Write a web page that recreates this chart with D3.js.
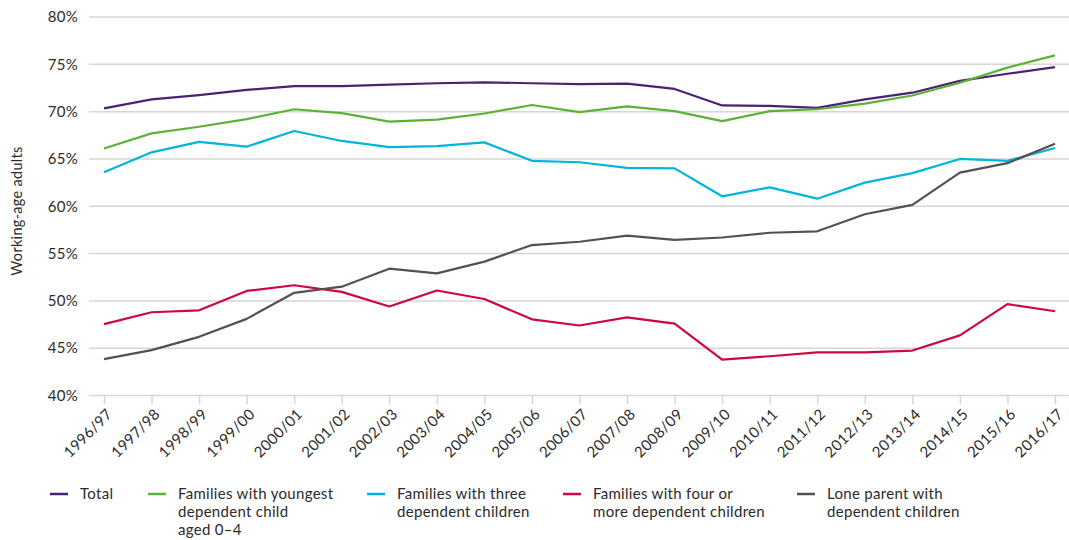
<!DOCTYPE html>
<html>
<head>
<meta charset="utf-8">
<script src="https://cdn.jsdelivr.net/npm/d3@7"></script>
<style>
  html, body { margin: 0; padding: 0; background: #fff; }
  svg { display: block; font-family: Lato, "Noto Sans", sans-serif; }
</style>
</head>
<body>
<svg id="chart" width="1069" height="540"></svg>
<script>
const years = ["1996/97","1997/98","1998/99","1999/00","2000/01","2001/02","2002/03","2003/04","2004/05","2005/06","2006/07","2007/08","2008/09","2009/10","2010/11","2011/12","2012/13","2013/14","2014/15","2015/16","2016/17"];
const total      = [70.35,71.3,71.75,72.3,72.7,72.7,72.85,73.0,73.1,73.0,72.9,72.95,72.4,70.65,70.6,70.4,71.3,72.0,73.25,74.0,74.7];
const youngest04 = [66.1,67.7,68.4,69.2,70.25,69.85,68.95,69.15,69.8,70.7,69.95,70.55,70.05,69.0,70.05,70.25,70.85,71.7,73.05,74.65,75.95];
const threeKids  = [63.6,65.7,66.8,66.3,67.95,66.9,66.25,66.35,66.75,64.8,64.65,64.05,64.0,61.05,62.0,60.8,62.5,63.5,65.0,64.8,66.15];
const fourPlus   = [47.55,48.8,49.0,51.05,51.65,50.95,49.4,51.1,50.2,48.05,47.4,48.25,47.6,43.8,44.15,44.55,44.55,44.75,46.35,49.65,48.9];
const loneParent = [43.85,44.8,46.2,48.1,50.85,51.5,53.4,52.9,54.15,55.9,56.25,56.9,56.45,56.7,57.2,57.35,59.15,60.15,63.55,64.55,66.6];
const yTicks = [40,45,50,55,60,65,70,75,80];

const seriesNames  = ["Total","Families with youngest\ndependent child\naged 0\u20134","Families with three\ndependent children","Families with four or\nmore dependent children","Lone parent with\ndependent children"];
const seriesValues = [total, youngest04, threeKids, fourPlus, loneParent];
const seriesColors = ["#4b2272","#5cb235","#00b5dc","#d0063f","#57504b"];

const svg = d3.select("#chart");
const x = d3.scalePoint().domain(years).range([104, 1055]);
const y = d3.scaleLinear().domain([40, 80]).range([395.5, 17]);
const textColor = "#2b2b2b";

// gridlines
svg.append("g").selectAll("line").data(yTicks).join("line")
  .attr("x1", 89).attr("x2", 1069)
  .attr("y1", d => y(d)).attr("y2", d => y(d))
  .attr("stroke", "#d6d6d6").attr("stroke-width", 1.5);

// y labels
svg.append("g").selectAll("text").data(yTicks).join("text")
  .attr("x", 78).attr("y", d => y(d)).attr("dy", "0.35em")
  .attr("text-anchor", "end").attr("font-size", 15).attr("fill", textColor)
  .attr("letter-spacing", 0.3)
  .text(d => d + "%");

// y title
svg.append("text")
  .attr("transform", "translate(17,211) rotate(-90)")
  .attr("text-anchor", "middle").attr("dy", "0.35em").attr("font-size", 14.5).attr("fill", textColor)
  .attr("letter-spacing", 0.3)
  .text("Working-age adults");

// x axis
const xAxis = d3.axisBottom(x).tickSize(9).tickPadding(4);
const gx = svg.append("g").attr("transform", `translate(0,${y(40)})`).call(xAxis);
gx.select(".domain").remove();
gx.selectAll(".tick line").attr("stroke", "#d6d6d6").attr("stroke-width", 1.5);
gx.selectAll(".tick text")
  .attr("font-size", 15).attr("fill", textColor).attr("font-family", "Lato, 'Noto Sans', sans-serif")
  .attr("letter-spacing", 0.3)
  .attr("text-anchor", "end")
  .attr("x", 0).attr("y", 0).attr("dy", "0.35em")
  .attr("transform", "translate(5,16) rotate(-45)");

// lines
const line = d3.line().x((d, i) => x(years[i])).y(d => y(d));
svg.append("g").selectAll("path").data(seriesValues).join("path")
  .attr("d", d => line(d))
  .attr("fill", "none")
  .attr("stroke", (d, i) => seriesColors[i])
  .attr("stroke-width", 2.2)
  .attr("stroke-linejoin", "round");

// legend
const legendX = [50, 148, 367, 563, 797];
const lg = svg.append("g");
seriesNames.forEach((name, i) => {
  const g = lg.append("g").attr("transform", `translate(${legendX[i]},494)`);
  g.append("line").attr("x1", 0).attr("x2", 18).attr("y1", 0).attr("y2", 0)
    .attr("stroke", seriesColors[i]).attr("stroke-width", 2.5);
  const t = g.append("text").attr("x", 30).attr("y", 0).attr("font-size", 15).attr("fill", textColor)
    .attr("letter-spacing", 0.3);
  name.split("\n").forEach((ln, j) => {
    t.append("tspan").attr("x", 30).attr("dy", j === 0 ? "0.35em" : "18px").text(ln);
  });
});
</script>
</body>
</html>
